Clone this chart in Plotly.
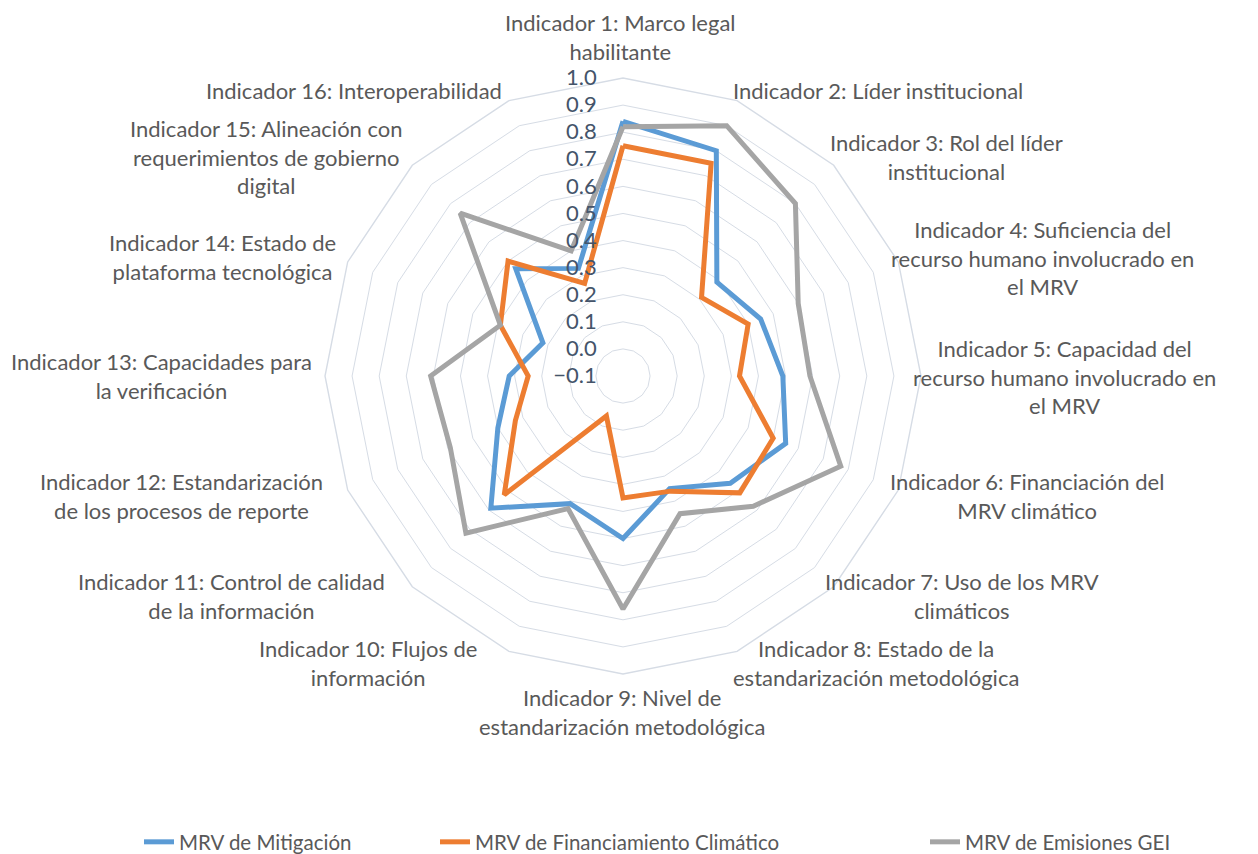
import plotly.graph_objects as go

indicators = [
    "Indicador 1: Marco legal<br>habilitante",
    "Indicador 2: Líder institucional",
    "Indicador 3: Rol del líder<br>institucional",
    "Indicador 4: Suficiencia del<br>recurso humano involucrado en<br>el MRV",
    "Indicador 5: Capacidad del<br>recurso humano involucrado en<br>el MRV",
    "Indicador 6: Financiación del<br>MRV climático",
    "Indicador 7: Uso de los MRV<br>climáticos",
    "Indicador 8: Estado de la<br>estandarización metodológica",
    "Indicador 9: Nivel de<br>estandarización metodológica",
    "Indicador 10: Flujos de<br>información",
    "Indicador 11: Control de calidad<br>de la información",
    "Indicador 12: Estandarización<br>de los procesos de reporte",
    "Indicador 13: Capacidades para<br>la verificación",
    "Indicador 14: Estado de<br>plataforma tecnológica",
    "Indicador 15: Alineación con<br>requerimientos de gobierno<br>digital",
    "Indicador 16: Interoperabilidad",
]

mitigacion = [0.84, 0.80, 0.39, 0.45, 0.49, 0.55, 0.46, 0.35, 0.50, 0.41, 0.59, 0.40, 0.32, 0.22, 0.46, 0.33]
financiamiento = [0.75, 0.75, 0.31, 0.40, 0.33, 0.50, 0.51, 0.36, 0.35, 0.06, 0.52, 0.33, 0.25, 0.39, 0.50, 0.27]
emisiones = [0.82, 0.90, 0.80, 0.60, 0.59, 0.77, 0.58, 0.45, 0.76, 0.43, 0.72, 0.59, 0.61, 0.39, 0.75, 0.40]

series_names = ["MRV de Mitigación", "MRV de Financiamiento Climático", "MRV de Emisiones GEI"]
series_values = [mitigacion, financiamiento, emisiones]
colors = ["#5B9BD5", "#ED7D31", "#A5A5A5"]

# layout constants (page pixels; the page body adds an 8px offset)
W, H, OFF = 1258, 854, 8
legend_ids = ["legend", "legend2", "legend3"]
legend_x = [131 / W, 427 / W, 917 / W]
# centre of each category label block, in page pixels
label_pos = [
    (620, 37), (878, 90), (946, 157), (1042, 258), (1064, 377), (1027, 496),
    (962, 596), (876, 663), (622, 712), (368, 663), (232, 596), (181, 496),
    (161, 376), (222, 257), (266, 157), (354, 90),
]
center_px = (623, 376)
radius_px = 298

FONT = "Lato"
TEXT = "#595959"
GRID = "#D6DCE5"

fig = go.Figure()
for name, vals, col, lg in zip(series_names, series_values, colors, legend_ids):
    fig.add_trace(go.Scatterpolar(
        r=vals + vals[:1],
        theta=indicators + indicators[:1],
        mode="lines",
        name=name,
        line=dict(color=col, width=5),
        legend=lg,
        hoverinfo="skip",
    ))

def legend_cfg(x):
    return dict(
        x=x, xanchor="left", y=0, yanchor="bottom",
        orientation="h", bgcolor="rgba(0,0,0,0)",
        font=dict(family=FONT, size=20.5, color=TEXT),
    )

cx, cy = center_px[0] - OFF, center_px[1] - OFF
annotations = []
for lab, (px, py) in zip(indicators, label_pos):
    annotations.append(dict(
        text=lab, xref="paper", yref="paper",
        x=(px - OFF) / W, y=1 - (py - OFF) / H,
        xanchor="center", yanchor="middle", align="center",
        showarrow=False,
        font=dict(family=FONT, size=22, color=TEXT),
    ))

fig.update_layout(
    width=W, height=H,
    margin=dict(l=0, r=0, t=0, b=0),
    paper_bgcolor="white",
    plot_bgcolor="white",
    font=dict(family=FONT, size=22, color=TEXT),
    showlegend=True,
    legend=legend_cfg(legend_x[0]),
    legend2=legend_cfg(legend_x[1]),
    legend3=legend_cfg(legend_x[2]),
    annotations=annotations,
    polar=dict(
        domain=dict(
            x=[(cx - radius_px) / W, (cx + radius_px) / W],
            y=[1 - (cy + radius_px) / H, 1 - (cy - radius_px) / H],
        ),
        bgcolor="white",
        gridshape="linear",
        radialaxis=dict(
            range=[-0.1, 1.0],
            dtick=0.1,
            tick0=0,
            tickformat=".1f",
            angle=90,
            side="counterclockwise",
            showline=False,
            ticks="outside",
            ticklen=18,
            tickcolor="rgba(0,0,0,0)",
            showgrid=True,
            gridcolor=GRID,
            gridwidth=1.4,
            tickfont=dict(family=FONT, size=22, color="#44546A"),
            tickangle=90,
        ),
        angularaxis=dict(
            rotation=90,
            direction="clockwise",
            showgrid=False,
            showline=True,
            linecolor=GRID,
            linewidth=1.4,
            ticks="",
            showticklabels=False,
        ),
    ),
)

fig.write_html("out.html")
